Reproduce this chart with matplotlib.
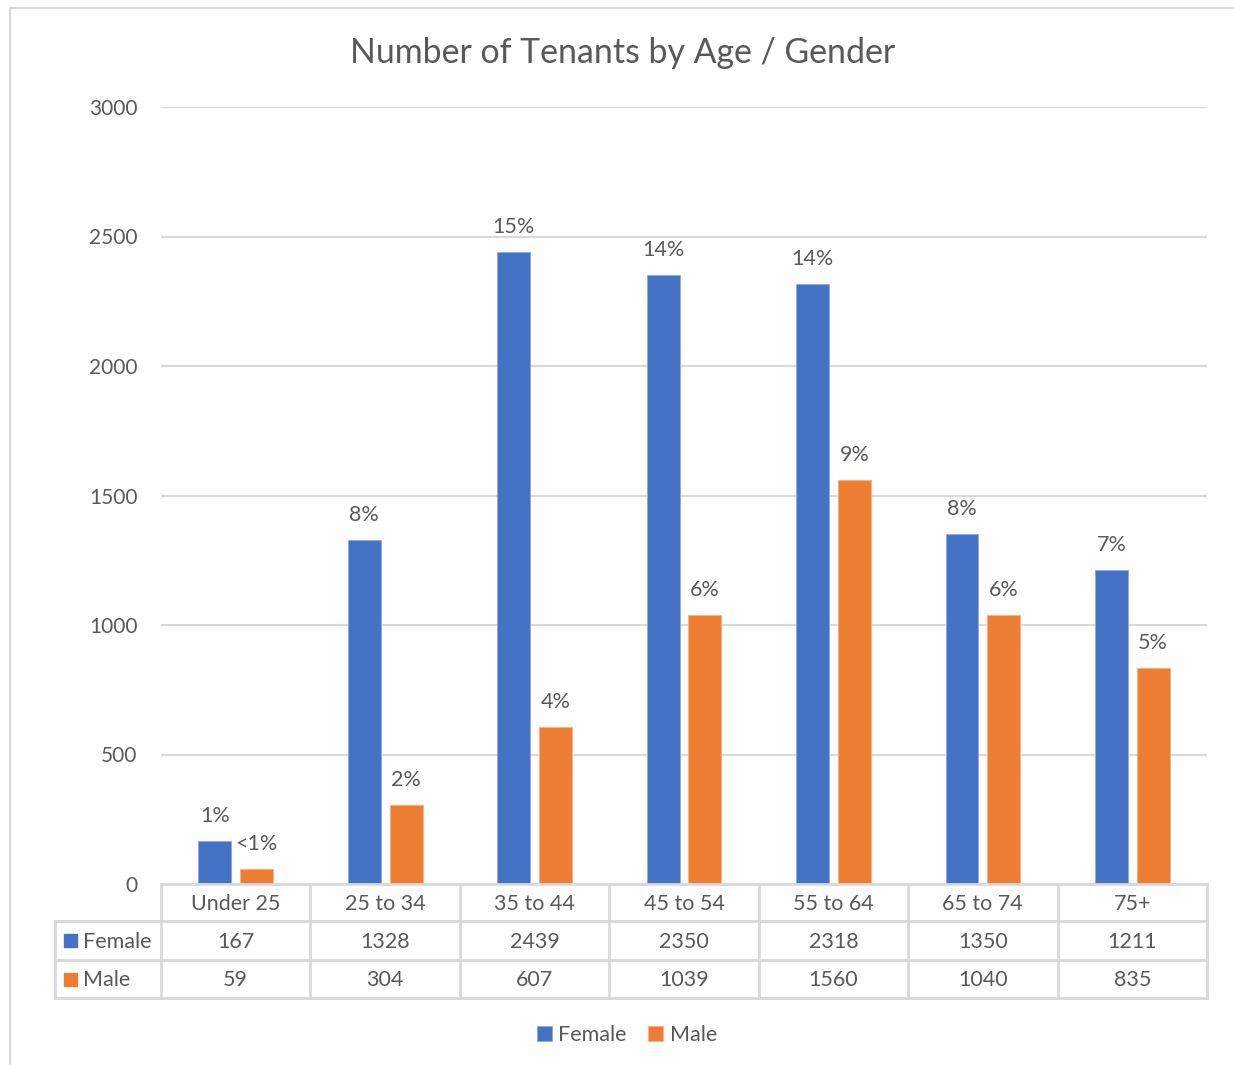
import numpy as np
import matplotlib
matplotlib.use("Agg")
import matplotlib.pyplot as plt
from matplotlib.patches import Rectangle

plt.rcParams['font.family'] = ['Lato', 'DejaVu Sans']

# data
categories = ["Under 25", "25 to 34", "35 to 44", "45 to 54", "55 to 64", "65 to 74", "75+"]
female = [167, 1328, 2439, 2350, 2318, 1350, 1211]
male = [59, 304, 607, 1039, 1560, 1040, 835]
female_pct = ["1%", "8%", "15%", "14%", "14%", "8%", "7%"]
male_pct = ["<1%", "2%", "4%", "6%", "9%", "6%", "5%"]

BLUE = "#4472c4"
ORANGE = "#ed7d31"
TXT = "#595959"
GRID = "#d9d9d9"

W, H = 1234, 1065
fig = plt.figure(figsize=(W / 100, H / 100), dpi=100)

# pixel helpers
def fx(px):
    return px / W

def fy(py):
    return 1 - py / H

L, R, T, B = 161, 1207, 107, 884
ax = fig.add_axes([fx(L), fy(B), fx(R) - fx(L), fy(T) - fy(B)])

x = np.arange(len(categories))
bw = 0.22
off = 0.14
b1 = ax.bar(x - off, female, bw, color=BLUE, edgecolor="#8faadc", linewidth=0.6, label="Female", zorder=3)
b2 = ax.bar(x + off, male, bw, color=ORANGE, edgecolor="#f4b183", linewidth=0.6, label="Male", zorder=3)

for i in range(len(categories)):
    ax.annotate(female_pct[i], (x[i] - off, female[i]), xytext=(0, 18), textcoords="offset points",
                ha="center", va="center", fontsize=15.5, color=TXT)
    ax.annotate(male_pct[i], (x[i] + off, male[i]), xytext=(0, 18), textcoords="offset points",
                ha="center", va="center", fontsize=15.5, color=TXT)

ax.set_xlim(-0.5, len(categories) - 0.5)
ax.set_ylim(0, 3000)
ax.set_yticks(np.arange(0, 3001, 500))
ax.yaxis.grid(True, color=GRID, linewidth=1.5, zorder=0)
ax.set_xticks([])
ax.tick_params(axis="y", length=0, pad=17, labelsize=15, labelcolor=TXT)
for s in ax.spines.values():
    s.set_visible(False)

fig.text(fx(623), fy(53), "Number of Tenants by Age / Gender", ha="center", va="center",
         fontsize=24.4, color=TXT)

# overlay for table and border
ov = fig.add_axes([0, 0, 1, 1], zorder=-1)
ov.set_xlim(0, W)
ov.set_ylim(H, 0)
ov.axis("off")
ov2 = fig.add_axes([0, 0, 1, 1])
ov2.set_xlim(0, W)
ov2.set_ylim(H, 0)
ov2.axis("off")

# outer chart border
ov.plot([10, 10, W], [H, 8, 8], color=GRID, linewidth=1.5)

cw = (R - L) / len(categories)
rows_y = [884, 921, 960, 998]
lw = 2
# horizontal lines
ov2.plot([L, R], [rows_y[0], rows_y[0]], color=GRID, linewidth=lw)
for yy in rows_y[1:]:
    ov2.plot([55, R], [yy, yy], color=GRID, linewidth=lw)
# vertical lines
ov2.plot([55, 55], [rows_y[1], rows_y[3]], color=GRID, linewidth=lw)
for k in range(len(categories) + 1):
    xx = L + k * cw
    ov2.plot([xx, xx], [rows_y[0], rows_y[3]], color=GRID, linewidth=lw)

cy = [(rows_y[i] + rows_y[i + 1]) / 2 + 1.5 for i in range(3)]
for k, c in enumerate(categories):
    xc = L + (k + 0.5) * cw
    ov2.text(xc, cy[0], c, ha="center", va="center", fontsize=15.5, color=TXT)
    ov2.text(xc, cy[1], str(female[k]), ha="center", va="center", fontsize=15.5, color=TXT)
    ov2.text(xc, cy[2], str(male[k]), ha="center", va="center", fontsize=15.5, color=TXT)

for yy, lab, col in [(cy[1], "Female", BLUE), (cy[2], "Male", ORANGE)]:
    ov2.add_patch(Rectangle((64, yy - 8), 13, 13, color=col))
    ov2.text(83, yy, lab, ha="left", va="center", fontsize=15.5, color=TXT)

fig.legend(handles=[b1, b2], labels=["Female", "Male"], loc="center",
           bbox_to_anchor=(fx(627), fy(1035)), ncol=2, frameon=False,
           fontsize=15.5, labelcolor=TXT, handlelength=0.7, handleheight=0.7,
           handletextpad=0.3, columnspacing=1.0)

fig.savefig("out.png", dpi=100)
